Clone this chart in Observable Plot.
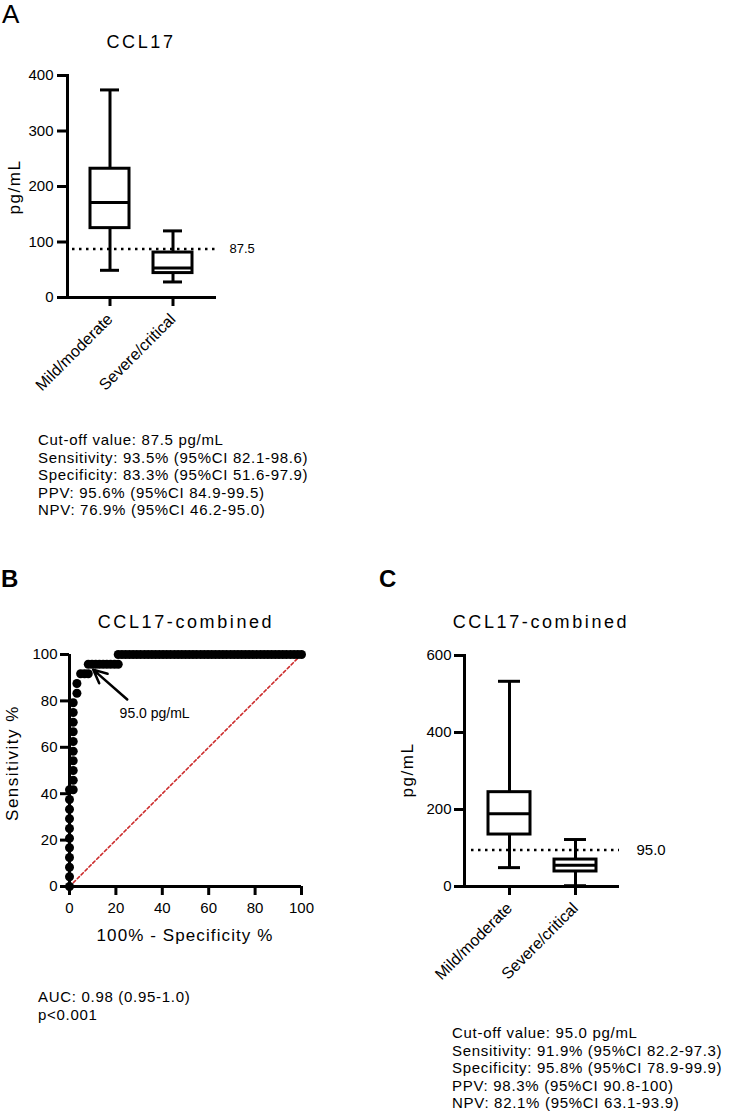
<!DOCTYPE html>
<html><head><meta charset="utf-8">
<script src="https://cdn.jsdelivr.net/npm/d3@7"></script>
<script src="https://cdn.jsdelivr.net/npm/@observablehq/plot@0.6"></script>
<style>
body{margin:0;background:#fff;font-family:"Liberation Sans",Arial,sans-serif;color:#000}
#root{position:relative;width:731px;height:1113px;overflow:hidden;background:#fff}
.abs{position:absolute;white-space:nowrap;line-height:1}
.letter{font-size:26px}
.bold{font-weight:bold;font-size:24px}
.title{font-size:18px;letter-spacing:2.6px;transform:translate(-50%,-50%)}
.ylab{font-size:17px;letter-spacing:1.5px;transform:translate(-50%,-50%) rotate(-90deg)}
.xlab{font-size:17px;letter-spacing:1.1px;transform:translate(-50%,-50%)}
.block{font-size:15px;letter-spacing:0.7px;line-height:17.5px}
svg{overflow:visible}
</style></head><body><div id="root"></div>
<script>
// ---------- data ----------
const groups = ["Mild/moderate", "Severe/critical"];

// Panel A (CCL17)
const aMin = [49, 28], aQ1 = [125, 44], aMed = [171, 53], aQ3 = [232, 81], aMax = [374, 120];
const aCut = [87.5];
const aTicks = [0, 100, 200, 300, 400];
const aText = ["Cut-off value: 87.5 pg/mL", "Sensitivity: 93.5% (95%CI 82.1-98.6)", "Specificity: 83.3% (95%CI 51.6-97.9)", "PPV: 95.6% (95%CI 84.9-99.5)", "NPV: 76.9% (95%CI 46.2-95.0)"];

// Panel B (ROC)
const rocX = [0,0,0,0,0,0,0,0,0,0,0,
  1.6,1.6,1.6,1.6,1.6,1.6,1.6,1.6,1.6,1.6,
  3.2,3.2,
  4.8,6.5,8.1,
  8.1,9.7,11.3,12.9,14.5,16.1,17.7,19.4,21.0,
  21.0,22.6,24.2,25.8,27.4,29.0,30.6,32.3,33.9,35.5,37.1,38.7,40.3,41.9,43.5,45.2,46.8,48.4,50.0,51.6,
  53.2,54.8,56.5,58.1,59.7,61.3,62.9,64.5,66.1,67.7,69.4,71.0,72.6,74.2,75.8,77.4,79.0,80.6,82.3,83.9,
  85.5,87.1,88.7,90.3,91.9,93.5,95.2,96.8,98.4,100];
const rocY = [0,4.2,8.3,12.5,16.7,20.8,25,29.2,33.3,37.5,41.7,
  41.7,45.8,50,54.2,58.3,62.5,66.7,70.8,75,79.2,
  83.3,87.5,
  91.7,91.7,91.7,
  95.8,95.8,95.8,95.8,95.8,95.8,95.8,95.8,95.8,
  100,100,100,100,100,100,100,100,100,100,100,100,100,100,100,100,100,100,100,100,
  100,100,100,100,100,100,100,100,100,100,100,100,100,100,100,100,100,100,100,100,
  100,100,100,100,100,100,100,100,100,100];
const refX = [0, 100], refY = [0, 100];
const rocTicks = [0, 20, 40, 60, 80, 100];
const arrowFrom = [24.9, 80.6], arrowTo = [10.2, 93.5];
const rocLabel = "95.0 pg/mL", rocLabelPos = [21.6, 74.6];
const bText = ["AUC: 0.98 (0.95-1.0)", "p<0.001"];

// Panel C (CCL17-combined)
const cMin = [49, 2], cQ1 = [135, 39], cMed = [189, 55], cQ3 = [245, 70], cMax = [533, 122];
const cCut = [95.0];
const cTicks = [0, 200, 400, 600];
const cText = ["Cut-off value: 95.0 pg/mL", "Sensitivity: 91.9% (95%CI 82.2-97.3)", "Specificity: 95.8% (95%CI 78.9-99.9)", "PPV: 98.3% (95%CI 90.8-100)", "NPV: 82.1% (95%CI 63.1-93.9)"];

// ---------- helpers ----------
const root = document.getElementById("root");
function place(node, left, top) {
  const d = document.createElement("div");
  d.className = "abs"; d.style.left = left + "px"; d.style.top = top + "px";
  d.appendChild(node); root.appendChild(d);
}
function label(text, cls, left, top) {
  const d = document.createElement("div");
  d.className = "abs " + cls; d.style.left = left + "px"; d.style.top = top + "px";
  d.textContent = text; root.appendChild(d);
}
function block(lines, left, top) {
  const d = document.createElement("div");
  d.className = "abs block"; d.style.left = left + "px"; d.style.top = top + "px";
  d.innerHTML = lines.map(l => l.replace(/</g, "&lt;")).join("<br>");
  root.appendChild(d);
}
const baseStyle = {fontFamily: '"Liberation Sans", Arial, sans-serif', color: "black", background: "transparent", overflow: "visible"};

function boxPlot({mins, q1s, meds, q3s, maxs, cut, ticks, ymax, width, height, ml, mr, mt, mb, pi, po, capInset, cutInset, cutFont, cutDx, tickSize, tickPad}) {
  const data = groups.map((g, i) => ({g, min: mins[i], q1: q1s[i], med: meds[i], q3: q3s[i], max: maxs[i]}));
  const sw = 3;
  return Plot.plot({
    width, height, marginLeft: ml, marginRight: mr, marginTop: mt, marginBottom: mb,
    style: baseStyle,
    x: {domain: groups, paddingInner: pi, paddingOuter: po, label: null},
    y: {domain: [0, ymax], label: null},
    marks: [
      Plot.ruleX(data, {x: "g", y1: "min", y2: "q1", strokeWidth: sw}),
      Plot.ruleX(data, {x: "g", y1: "q3", y2: "max", strokeWidth: sw}),
      Plot.barY(data, {x: "g", y1: "q1", y2: "q3", fill: "white", stroke: "black", strokeWidth: sw}),
      Plot.tickY(data, {x: "g", y: "med", strokeWidth: sw}),
      Plot.tickY(data, {x: "g", y: "min", strokeWidth: sw, insetLeft: capInset, insetRight: capInset}),
      Plot.tickY(data, {x: "g", y: "max", strokeWidth: sw, insetLeft: capInset, insetRight: capInset}),
      Plot.ruleY(cut, {strokeWidth: 2.5, strokeDasharray: "2.5,4.5", insetLeft: cutInset}),
      Plot.text(cut, {y: d => d, text: d => d.toFixed(1), frameAnchor: "right", textAnchor: "start", dx: cutDx, fontSize: cutFont}),
      Plot.axisY({ticks, tickSize, tickPadding: tickPad, strokeWidth: sw, fontSize: 15, label: null}),
      Plot.axisX({tickSize: 9, tickPadding: 10, tickRotate: -45, strokeWidth: sw, fontSize: 16, label: null}),
      Plot.frame({anchor: "left", strokeWidth: sw}),
      Plot.ruleY([0], {strokeWidth: sw})
    ]
  });
}

// ---------- Panel A ----------
label("A", "letter", 2, 1);
label("CCL17", "title", 141, 42);
label("pg/mL", "ylab", 14, 187);
place(boxPlot({mins: aMin, q1s: aQ1, meds: aMed, q3s: aQ3, maxs: aMax, cut: aCut, ticks: aTicks, ymax: 400,
  width: 300, height: 420, ml: 67, mr: 84, mt: 75, mb: 123, pi: 0.375, po: 0.352, capInset: 10, cutInset: 5,
  cutFont: 13, cutDx: 13, tickSize: 10, tickPad: 4}), 0, 0);
block(aText, 38, 431);

// ---------- Panel B ----------
label("B", "bold", 1, 567);
label("CCL17-combined", "title", 186, 622);
label("Sensitivity %", "ylab", 12, 763);
label("100% - Specificity %", "xlab", 185, 935);
const roc = rocX.map((x, i) => ({x, y: rocY[i]}));
const ref = refX.map((x, i) => ({x, y: refY[i]}));
place(Plot.plot({
  width: 320, height: 400, marginLeft: 69, marginRight: 19, marginTop: 94, marginBottom: 74,
  style: baseStyle,
  x: {domain: [0, 100], label: null},
  y: {domain: [0, 100], label: null},
  marks: [
    Plot.line(ref, {x: "x", y: "y", stroke: "#cc2b2b", strokeWidth: 1.6, strokeDasharray: "3,2.5"}),
    Plot.axisY({ticks: rocTicks, tickSize: 9, tickPadding: 3, strokeWidth: 3, fontSize: 15, label: null}),
    Plot.axisX({ticks: rocTicks, tickSize: 9, tickPadding: 7, strokeWidth: 3, fontSize: 15, label: null}),
    Plot.ruleX([0], {strokeWidth: 3}),
    Plot.ruleY([0], {strokeWidth: 3}),
    Plot.dot(roc, {x: "x", y: "y", r: 4.5, fill: "black"}),
    Plot.arrow([0], {x1: () => arrowFrom[0], y1: () => arrowFrom[1], x2: () => arrowTo[0], y2: () => arrowTo[1], strokeWidth: 2.5, headLength: 9, headAngle: 50}),
    Plot.text([rocLabel], {x: () => rocLabelPos[0], y: () => rocLabelPos[1], text: d => d, textAnchor: "start", fontSize: 14})
  ]
}), 0, 560);
block(bText, 38, 988);

// ---------- Panel C ----------
label("C", "bold", 379, 567);
label("CCL17-combined", "title", 541, 622);
label("pg/mL", "ylab", 407, 770);
place(boxPlot({mins: cMin, q1s: cQ1, meds: cMed, q3s: cQ3, maxs: cMax, cut: cCut, ticks: cTicks, ymax: 600,
  width: 351, height: 440, ml: 84, mr: 112, mt: 95, mb: 114, pi: 0.364, po: 0.356, capInset: 10, cutInset: 7,
  cutFont: 15, cutDx: 17, tickSize: 10, tickPad: 3}), 380, 560);
block(cText, 452, 1024);
</script></body></html>
